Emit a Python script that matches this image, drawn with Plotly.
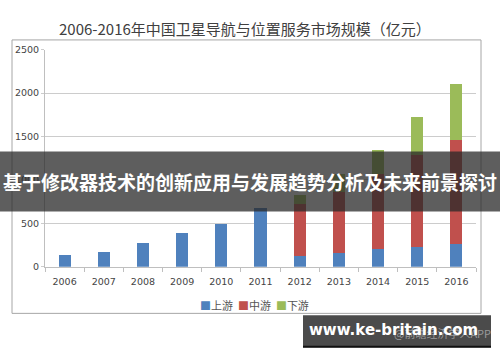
import plotly.graph_objects as go

years = ["2006", "2007", "2008", "2009", "2010", "2011", "2012", "2013", "2014", "2015", "2016"]
upstream = [134, 175, 275, 390, 495, 680, 120, 156, 200, 230, 268]
midstream = [0, 0, 0, 0, 0, 0, 605, 707, 868, 1061, 1191]
downstream = [0, 0, 0, 0, 0, 0, 101, 205, 279, 428, 651]
series_names = ["上游", "中游", "下游"]
colors = ["#4f81bd", "#c0504d", "#9bbb59"]
title_text = "2006-2016年中国卫星导航与位置服务市场规模（亿元）"
banner_text = "基于修改器技术的创新应用与发展趋势分析及未来前景探讨"
site_text = "www.ke-britain.com"

W, H = 500, 362
def px(x):
    return x / W
def py(y):
    return 1 - y / H

fig = go.Figure()
for name, vals, c in zip(series_names, [upstream, midstream, downstream], colors):
    fig.add_trace(go.Bar(x=years, y=vals, name=name, marker_color=c,
                         marker_line_width=0, width=0.31, showlegend=False))

font_cjk = "Noto Sans CJK SC, DejaVu Sans, sans-serif"

fig.update_layout(
    width=W, height=H,
    margin=dict(l=0, r=0, t=0, b=0),
    paper_bgcolor="white", plot_bgcolor="white",
    barmode="stack",
    showlegend=False,
    xaxis=dict(domain=[px(45), px(476)], type="category", showgrid=False,
               showline=True, linecolor="#bfbfbf", linewidth=1,
               ticks="outside", tickson="boundaries", ticklen=4, tickcolor="#bfbfbf",
               ticklabelstandoff=6,
               tickfont=dict(size=9.5, color="#444", family="DejaVu Sans"),
               anchor="y"),
    yaxis=dict(domain=[py(269), py(45)], range=[0, 2500], dtick=500,
               showgrid=True, gridcolor="#cccccc", gridwidth=1,
               showline=True, linecolor="#bfbfbf", linewidth=1,
               ticks="outside", ticklen=3, tickcolor="#cccccc",
               tickfont=dict(size=9.5, color="#444", family="DejaVu Sans"),
               zeroline=False, anchor="x"),
    font=dict(family=font_cjk),
)

shapes = []
# outer chart frame
shapes.append(dict(type="rect", xref="paper", yref="paper", x0=px(12), x1=px(481),
                   y0=py(317), y1=py(35), line=dict(color="#a6a6a6", width=1),
                   fillcolor="rgba(0,0,0,0)", layer="below"))
# banner band
shapes.append(dict(type="rect", xref="paper", yref="paper", x0=0, x1=1,
                   y0=py(212), y1=py(150), line=dict(width=0),
                   fillcolor="rgba(40,40,40,0.75)", layer="above"))
# site box
shapes.append(dict(type="rect", xref="paper", yref="paper", x0=px(303), x1=px(491),
                   y0=py(352), y1=py(319), line=dict(width=0),
                   fillcolor="#4b4b4b", layer="above"))
shapes.append(dict(type="line", xref="paper", yref="paper", x0=px(303), x1=px(491),
                   y0=py(351.5), y1=py(351.5), line=dict(color="#111", width=2),
                   layer="above"))
fig.update_layout(shapes=shapes)

# legend built from the series names / colours
legend_parts = []
for name, c in zip(series_names, colors):
    legend_parts.append("<span style='color:%s'>■</span>%s" % (c, name))
legend_text = "&nbsp;&nbsp;".join(legend_parts)
fig.add_annotation(text=legend_text, xref="paper", yref="paper", x=px(254), y=py(308),
                   showarrow=False, xanchor="center", yanchor="middle",
                   font=dict(size=11, color="#555", family=font_cjk))

fig.add_annotation(text=title_text, xref="paper", yref="paper", x=px(245), y=py(23),
                   showarrow=False, xanchor="center", yanchor="middle",
                   font=dict(size=15, color="#404040", family=font_cjk))
fig.add_annotation(text="<b>" + banner_text + "</b>", xref="paper", yref="paper",
                   x=px(250), y=py(181), showarrow=False, xanchor="center", yanchor="middle",
                   font=dict(size=19, color="white", family=font_cjk))
fig.add_annotation(text="@前瞻经济学人APP", xref="paper", yref="paper",
                   x=px(493), y=py(337), showarrow=False, xanchor="right", yanchor="middle",
                   font=dict(size=11, color="#9a9a9a", family=font_cjk))
fig.add_annotation(text="<b>" + site_text + "</b>", xref="paper", yref="paper",
                   x=px(393), y=py(334), showarrow=False, xanchor="center", yanchor="middle",
                   font=dict(size=15, color="white", family="DejaVu Sans, Verdana, sans-serif"))

fig.write_html("out.html")
